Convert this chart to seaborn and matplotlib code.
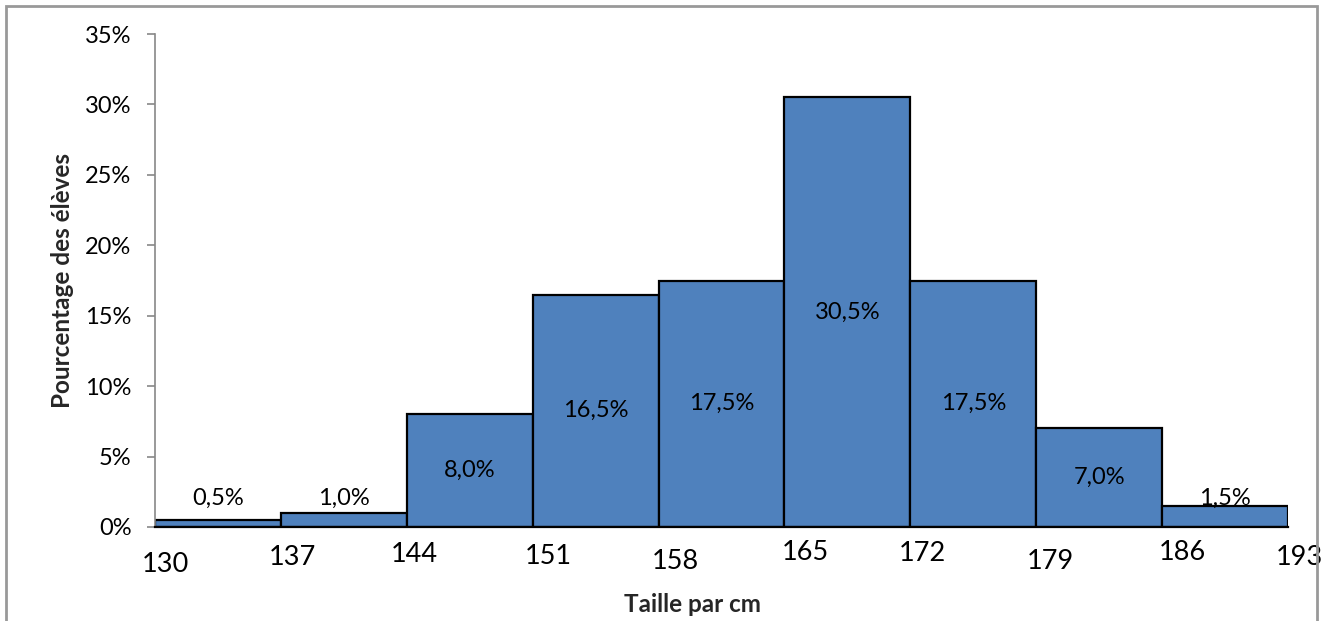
import matplotlib
matplotlib.use("Agg")
import matplotlib.pyplot as plt
import matplotlib.patches as mpatches
from matplotlib.ticker import FuncFormatter, MultipleLocator
import seaborn as sns

# Class boundaries (cm) and share of pupils per class (%)
edges = [130, 137, 144, 151, 158, 165, 172, 179, 186, 193]
shares = [0.5, 1.0, 8.0, 16.5, 17.5, 30.5, 17.5, 7.0, 1.5]
edge_labels = ["130", "137", "144", "151", "158", "165", "172", "179", "186", "193"]

# hand-placed label nudges (pixels) for the boundary values
label_dx = [10, 12, 8, 16, 17, 21, 12, 14, 20, 11]
label_dy = [38, 31, 28, 30, 35, 26, 27, 35, 26, 31]

sns.set_theme(style="white")
plt.rcParams["font.family"] = ["Lato", "DejaVu Sans"]

fig = plt.figure(figsize=(13.34, 6.21), dpi=100)
ax = fig.add_axes([0.1162, 0.1514, 0.8493, 0.7938])

mids = [(a + b) / 2 for a, b in zip(edges[:-1], edges[1:])]
sns.histplot(x=mids, weights=shares, bins=edges, stat="count",
             color="#4F81BD", edgecolor="black", linewidth=1.6,
             alpha=1.0, ax=ax)

ax.set_xlim(edges[0], edges[-1])
ax.set_ylim(0, 35)
ax.yaxis.set_major_locator(MultipleLocator(5))
ax.yaxis.set_major_formatter(FuncFormatter(lambda v, p: f"{int(round(v))}%"))
ax.tick_params(axis="y", which="major", length=6, width=1.2, color="#888888",
               labelsize=17, labelcolor="black", left=True, direction="out", pad=11)
ax.set_xticks([])

for side in ("top", "right"):
    ax.spines[side].set_visible(False)
ax.spines["left"].set_color("#888888")
ax.spines["left"].set_linewidth(1.2)
ax.spines["bottom"].set_color("black")
ax.spines["bottom"].set_linewidth(1.6)

# boundary labels under the axis
for x, lab, dx, dy in zip(edges, edge_labels, label_dx, label_dy):
    ax.annotate(lab, xy=(x, 0), xycoords=("data", "axes fraction"),
                xytext=(dx, -dy), textcoords="offset pixels",
                ha="center", va="center", fontsize=19.5, color="black",
                annotation_clip=False)

# value labels: centred in tall bars, just above short ones
for m, v in zip(mids, shares):
    y = max(v / 2, 2.0)
    ax.text(m, y, f"{v:.1f}%".replace(".", ","), ha="center", va="center",
            fontsize=17, color="black", zorder=5)

ax.set_xlabel("")
ax.set_ylabel("")
fig.text(693 / 1334, 1 - 604 / 621, "Taille par cm", ha="center", va="center",
         fontsize=17.5, fontweight="bold")
fig.text(62 / 1334, 1 - 280 / 621, "Pourcentage des élèves", ha="center",
         va="center", rotation=90, fontsize=17.5, fontweight="bold")

# outer frame of the chart
frame = mpatches.Rectangle((6 / 1334, -0.05), (1317 - 6) / 1334, 1 - 6 / 621 + 0.05,
                           transform=fig.transFigure, fill=False,
                           edgecolor="#999999", linewidth=2.0, zorder=10)
fig.patches.append(frame)

fig.savefig("out.png", dpi=100)
